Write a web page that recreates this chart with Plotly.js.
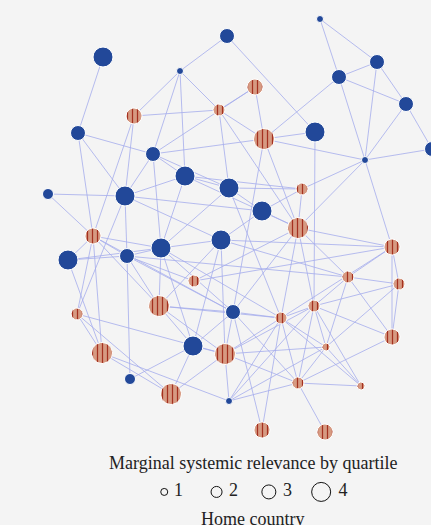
<!DOCTYPE html>
<html>
<head>
<meta charset="utf-8">
<script src="https://cdn.plot.ly/plotly-3.0.1.min.js"></script>
<style>html,body{margin:0;padding:0;background:#f4f4f4;}#chart{width:431px;height:525px;}</style>
</head>
<body>
<div id="chart"></div>
<script>
// ---- Node data (layout coordinates) ----
var nodeIds = ["B1","B2","B3","B4","B5","B6","B7","B8","B9","B10","B11","B12","B13","B14","B15","B16","B17","B18","B19","B20","B21","B22","B23","B24","B25",
  "O1","O2","O3","O4","O5","O6","O7","O8","O9","O10","O11","O12","O13","O14","O15","O16","O17","O18","O19","O20","O21","O22","O23","O24"];
var nodeX = [103,227,180,320,377,339,406,315,365,432,78,153,185,125,229,48,262,221,161,127,68,233,193,130,229,
  134,255,219,264,302,93,298,392,194,348,399,159,77,314,281,392,326,102,225,298,361,171,262,325];
var nodeY = [57,36,71,19,62,77,104,132,160,149,133,154,176,196,188,194,211,240,248,256,260,312,346,379,401,
  116,87,110,139,189,236,228,247,281,277,284,306,314,306,318,337,347,353,354,383,386,394,430,432];
var nodeQuartile = [4,3,1,1,3,3,3,4,1,3,3,3,4,4,4,2,4,4,4,3,4,3,4,2,1,
  3,3,2,4,2,3,4,3,2,2,2,4,2,2,2,3,1,4,4,2,1,4,3,3];
var nodeHome = [0,0,0,0,0,0,0,0,0,0,0,0,0,0,0,0,0,0,0,0,0,0,0,0,0,
  1,1,1,1,1,1,1,1,1,1,1,1,1,1,1,1,1,1,1,1,1,1,1,1];

// ---- Edge list ----
var edgeSource = ["B1","B2","B2","B3","B3","B3","B3","O3","O1","O1","O1","B11","B11","B11","B12","B12","O3","O3","O3","O2","O4","O4","O4","O4","O4",
  "B4","B4","B5","B5","B5","B6","B6","B7","B7","B9","B9","B9","B9","B8",
  "B15","B13","B15","B15","B13","B15","B12","B13","B13","B13","B12","B12","B12","B14","B16","B14","B14","B14","B14",
  "O6","O6","O6","O6","O6","O6","O6","B21","B21","B21","B20","B20","B20","B20","B20","B20",
  "B19","B19","B19","B19","B19","B18","B18","B18","B18","B18","B18",
  "O5","O5","B17","O7","O7","O7","O7","O7","O7","O9",
  "O12","O12","O12","O12","O13","O13","O13","O18","O18","B24","B23","B23","B23","O22","O19",
  "O8","O8","O8","O8","O10","O10","O10","O10","O14","O14","O14","O14","O14","O14",
  "O15","O15","O15","O15","O15","O15","O15","B22","B22","B22","O19","O19","O19","B25","B25","B25",
  "O20","O20","O20","O20","O17","O17","O16"];
var edgeTarget = ["B11","B3","B8","O1","B12","B13","O3","O4","O3","B14","O6","B12","B14","O6","O4","O2","O2","B15","O7","O4","B8","B6","B9","B22","O7",
  "B5","B6","B6","B7","B9","B7","B9","B9","B10","B10","O5","O7","O8","O14",
  "O5","O5","B17","B19","B15","O15","B13","B14","B19","O7","B14","B19","B15","B16","O6","B20","O13","B17","B18",
  "B20","B19","B21","O18","O13","O12","B22","B20","B19","O18","B19","B24","O12","O9","B22","O10",
  "O12","B23","B22","B18","O15","O12","B23","O19","B17","O8","O10",
  "B17","O7","O7","O9","B22","O15","O14","O8","O10","O8",
  "B22","B23","O19","O15","O18","O22","O19","O22","B25","B23","O22","O19","B22","O19","B25",
  "O10","O15","O11","O16","O11","O14","O17","O16","O11","O16","O15","O17","O21","O20",
  "B22","O17","O21","O20","O23","B25","O19","O19","O23","O20","O17","O14","O20","O17","O20","O14",
  "O17","O21","O24","O16","O21","O11","O11"];

// ---- Styles ----
var BLUE = "#224899";
var SALMON = "#d69a82";
var STRIPE = "#a5301f";
var EDGE = "rgba(165,172,236,0.8)";
var BG = "#f4f4f4";
var SERIF = "Liberation Serif, Times New Roman, serif";
var sizeByQuartile = {1: 7, 2: 11, 3: 15, 4: 20};
var legendQuartiles = [1, 2, 3, 4];
var legendSizes = [7, 11, 14, 19];

var idx = {};
nodeIds.forEach(function (id, i) { idx[id] = i; });

// edges trace
var ex = [], ey = [];
for (var k = 0; k < edgeSource.length; k++) {
  var a = idx[edgeSource[k]], b = idx[edgeTarget[k]];
  ex.push(nodeX[a], nodeX[b], null);
  ey.push(nodeY[a], nodeY[b], null);
}
var traces = [{
  type: "scatter", mode: "lines", x: ex, y: ey,
  line: {color: EDGE, width: 1}, hoverinfo: "skip", showlegend: false
}];

// home-country group 0: solid blue markers
var bx = [], by = [], bs = [];
// group 1: striped discs drawn as filled polygons with a fill pattern
var ox = [], oy = [];
for (var i = 0; i < nodeIds.length; i++) {
  var s = sizeByQuartile[nodeQuartile[i]];
  if (nodeHome[i] === 0) {
    bx.push(nodeX[i]); by.push(nodeY[i]); bs.push(s);
  } else {
    var r = s / 2 + 0.5;
    for (var t = 0; t <= 48; t++) {
      var ang = 2 * Math.PI * t / 48;
      ox.push(nodeX[i] + r * Math.cos(ang));
      oy.push(nodeY[i] + r * Math.sin(ang));
    }
    ox.push(null); oy.push(null);
  }
}
traces.push({
  type: "scatter", mode: "lines", x: ox, y: oy, fill: "toself",
  fillcolor: SALMON,
  fillpattern: {shape: "|", fgcolor: STRIPE, bgcolor: SALMON, size: 5, solidity: 0.25},
  line: {color: "#ffffff", width: 1}, hoverinfo: "skip", showlegend: false
});
traces.push({
  type: "scatter", mode: "markers", x: bx, y: by,
  marker: {color: BLUE, size: bs, opacity: 1, line: {color: "#ffffff", width: 1}},
  hoverinfo: "skip", showlegend: false
});

// size legend row
traces.push({
  type: "scatter", mode: "markers+text", xaxis: "x2", yaxis: "y2",
  x: legendQuartiles, y: legendQuartiles.map(function () { return 0; }),
  text: legendQuartiles.map(function (q) { return "\u00a0" + q; }), textposition: "middle right",
  textfont: {family: SERIF, size: 18, color: "#222222"},
  marker: {color: "rgba(0,0,0,0)", size: legendSizes, opacity: 1, line: {color: "#111111", width: 1}},
  hoverinfo: "skip", showlegend: false, cliponaxis: false
});

var layout = {
  width: 431, height: 525,
  margin: {l: 0, r: 0, t: 0, b: 0},
  paper_bgcolor: BG, plot_bgcolor: BG,
  showlegend: false,
  xaxis: {range: [0, 431], visible: false, fixedrange: true},
  yaxis: {range: [525, 0], visible: false, fixedrange: true},
  xaxis2: {range: [-2.14, 6.1], domain: [0, 1], anchor: "y2", visible: false},
  yaxis2: {range: [-1, 1], domain: [0.03, 0.096], anchor: "x2", visible: false},
  annotations: [
    {text: "Marginal systemic relevance by quartile", xref: "paper", yref: "paper",
     x: 0.589, y: 0.118, xanchor: "center", yanchor: "middle", showarrow: false,
     font: {family: SERIF, size: 18, color: "#222222"}},
    {text: "Home country", xref: "paper", yref: "paper",
     x: 0.587, y: 0.012, xanchor: "center", yanchor: "middle", showarrow: false,
     font: {family: SERIF, size: 18, color: "#222222"}}
  ]
};

Plotly.newPlot("chart", traces, layout, {displayModeBar: false, staticPlot: true});
</script>
</body>
</html>
